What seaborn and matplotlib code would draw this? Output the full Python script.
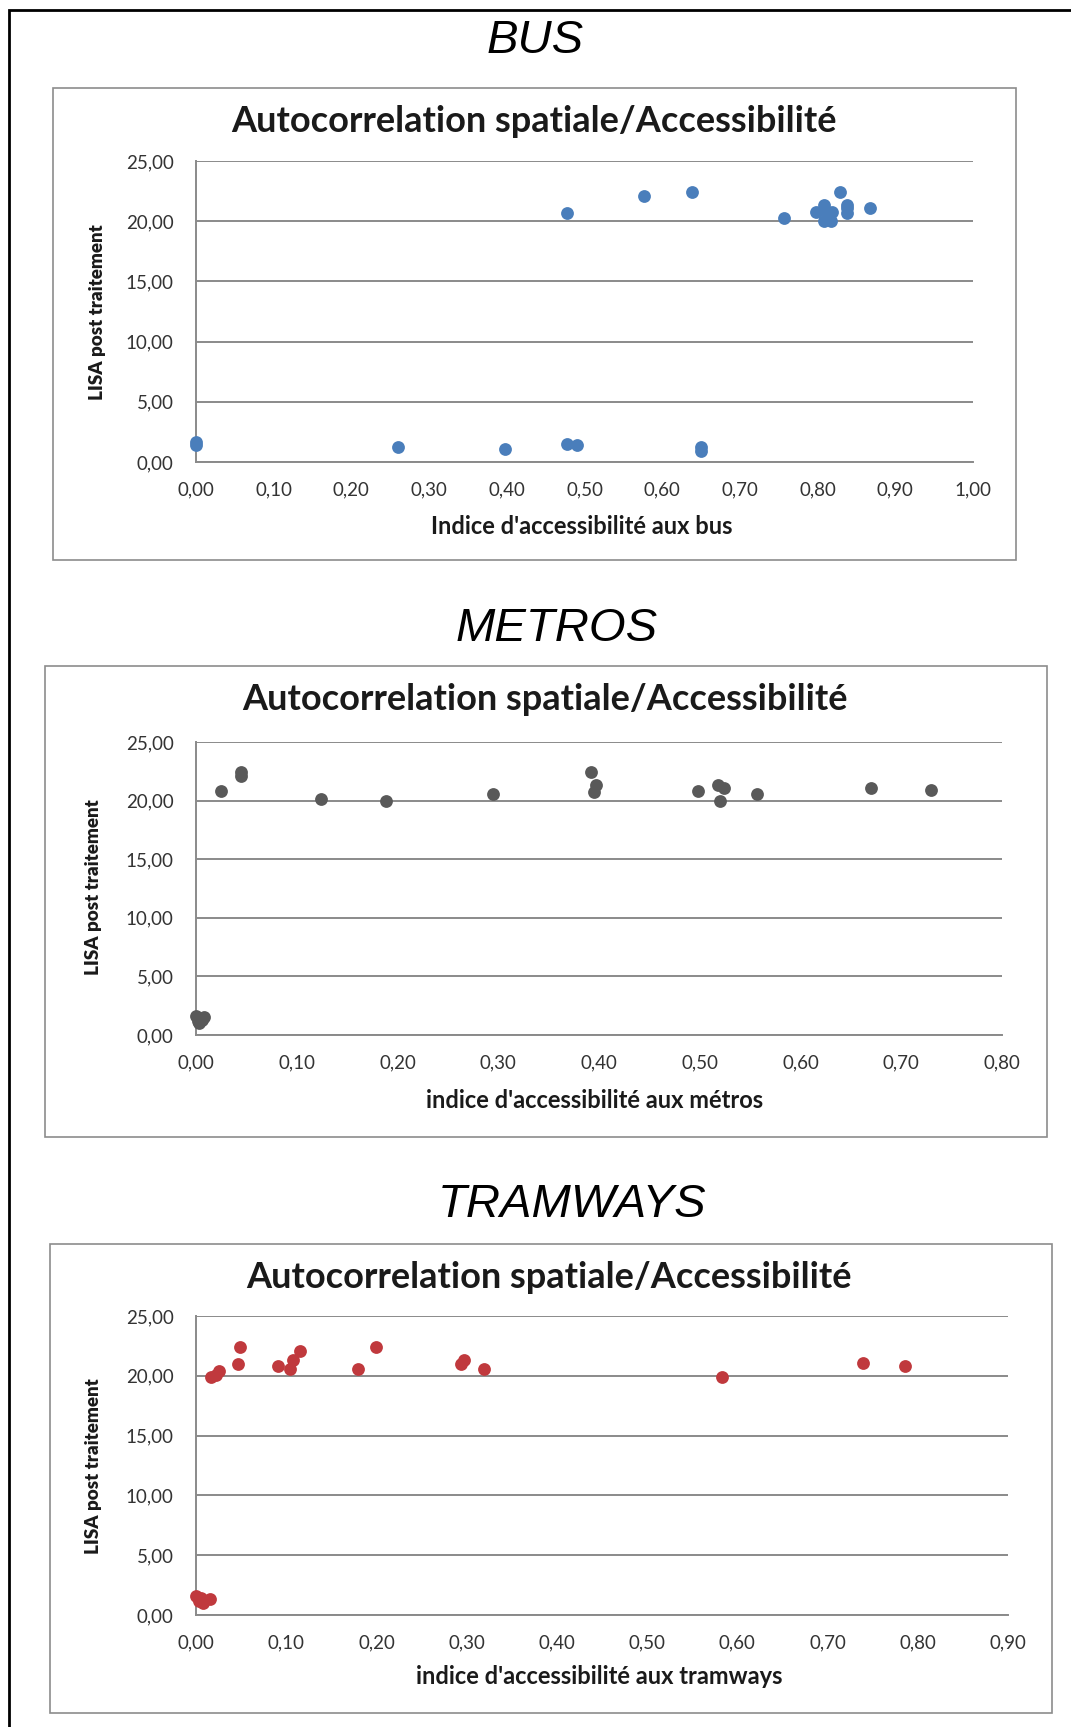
import matplotlib
matplotlib.use("Agg")
import matplotlib.pyplot as plt
import seaborn as sns
import pandas as pd
from matplotlib.patches import Rectangle
from matplotlib.ticker import FuncFormatter, MultipleLocator

# ---------------- data ----------------
bus_x = [0.000, 0.000, 0.260, 0.398, 0.478, 0.490, 0.650, 0.650,
         0.478, 0.577, 0.638, 0.757, 0.798, 0.808, 0.808, 0.812, 0.819,
         0.817, 0.829, 0.838, 0.838, 0.838, 0.868]
bus_y = [1.40, 1.70, 1.25, 1.09, 1.53, 1.39, 1.25, 0.92,
         20.70, 22.10, 22.45, 20.25, 20.80, 21.35, 20.05, 20.80, 20.80,
         20.05, 22.45, 21.35, 21.10, 20.70, 21.10]

metro_x = [0.000, 0.002, 0.006, 0.003, 0.008,
           0.025, 0.045, 0.045, 0.124, 0.189, 0.295, 0.392, 0.397, 0.395,
           0.498, 0.518, 0.524, 0.520, 0.557, 0.670, 0.730]
metro_y = [1.60, 1.20, 1.30, 1.00, 1.50,
           20.80, 22.10, 22.40, 20.10, 19.97, 20.60, 22.40, 21.30, 20.70,
           20.80, 21.30, 21.10, 19.97, 20.60, 21.10, 20.90]

tram_x = [0.000, 0.003, 0.008, 0.015, 0.005,
          0.017, 0.022, 0.026, 0.049, 0.046, 0.091, 0.104, 0.108, 0.115,
          0.180, 0.200, 0.294, 0.297, 0.319, 0.583, 0.739, 0.786]
tram_y = [1.60, 1.20, 1.00, 1.35, 1.40,
          19.90, 20.10, 20.40, 22.40, 21.00, 20.80, 20.60, 21.30, 22.10,
          20.60, 22.40, 21.00, 21.30, 20.60, 19.90, 21.10, 20.80]

section_titles = ["BUS", "METROS", "TRAMWAYS"]
chart_title = "Autocorrelation spatiale/Accessibilité"
y_label = "LISA post traitement"
x_labels = ["Indice d'accessibilité aux bus",
            "indice d'accessibilité aux métros",
            "indice d'accessibilité aux tramways"]
x_max = [1.0, 0.8, 0.9]
y_ticks = [0, 5, 10, 15, 20, 25]
colors = ["#4a7ebb", "#595959", "#c0393d"]

# ---------------- figure ----------------
sns.set_theme(style="white")
plt.rcParams['font.family'] = ['Lato', 'DejaVu Sans']

W, H = 1071, 1727
fig = plt.figure(figsize=(W / 100, H / 100), dpi=100)

def fx(px):
    return px / W

def fy(py):
    return 1 - py / H

# outer frame (open at right and bottom, running off the image)
fig.patches.append(Rectangle((fx(9), fy(1760)), fx(1100), (1760 - 10) / H,
                             transform=fig.transFigure, fill=False,
                             edgecolor="black", linewidth=2.0, zorder=0))

panels = [
    dict(frame=(53, 88, 1016, 560), ax=(196, 161, 973, 462), sec=(535, 41),
         title=(534, 122), xl=(582, 526), yl=(97, 312)),
    dict(frame=(45, 666, 1047, 1137), ax=(196, 742, 1002, 1035), sec=(557, 629),
         title=(545, 700), xl=(595, 1101), yl=(93, 887)),
    dict(frame=(50, 1244, 1052, 1713), ax=(196, 1316, 1008, 1615), sec=(572, 1205),
         title=(549, 1278), xl=(599, 1677), yl=(93, 1466)),
]

datasets = [(bus_x, bus_y), (metro_x, metro_y), (tram_x, tram_y)]
fmt = FuncFormatter(lambda v, pos: f"{v:.2f}".replace(".", ","))

for i, p in enumerate(panels):
    l, t, r, b = p["frame"]
    fig.patches.append(Rectangle((fx(l), fy(b)), fx(r - l), (b - t) / H,
                                 transform=fig.transFigure, fill=False,
                                 edgecolor="#8c8c8c", linewidth=1.2, zorder=0))
    fig.text(fx(p["sec"][0]), fy(p["sec"][1]), section_titles[i],
             ha="center", va="center", fontsize=34, style="italic",
             family=["Liberation Sans", "DejaVu Sans"], color="black")
    fig.text(fx(p["title"][0]), fy(p["title"][1]), chart_title,
             ha="center", va="center", fontsize=26, fontweight="bold",
             color="#1a1a1a")
    fig.text(fx(p["xl"][0]), fy(p["xl"][1]), x_labels[i],
             ha="center", va="center", fontsize=17, fontweight="bold",
             color="#1a1a1a")
    fig.text(fx(p["yl"][0]), fy(p["yl"][1]), y_label,
             ha="center", va="center", fontsize=13.5, fontweight="heavy",
             rotation=90, color="#1a1a1a")

    al, at, ar, ab = p["ax"]
    ax = fig.add_axes([fx(al), fy(ab), (ar - al) / W, (ab - at) / H])
    xs, ys = datasets[i]
    df = pd.DataFrame({"x": xs, "y": ys})
    sns.scatterplot(data=df, x="x", y="y", ax=ax, color=colors[i],
                    s=85, edgecolor=colors[i], linewidth=0, zorder=3,
                    clip_on=False)
    ax.set_xlim(0, x_max[i])
    ax.set_ylim(0, 25)
    ax.xaxis.set_major_locator(MultipleLocator(0.1))
    ax.set_yticks(y_ticks)
    ax.xaxis.set_major_formatter(fmt)
    ax.yaxis.set_major_formatter(fmt)
    ax.set_xlabel("")
    ax.set_ylabel("")
    ax.grid(axis="y", color="#8a8a8a", linewidth=1.4)
    ax.grid(axis="x", visible=False)
    ax.set_axisbelow(True)
    for s in ["top", "right"]:
        ax.spines[s].set_visible(False)
    for s in ["left", "bottom"]:
        ax.spines[s].set_color("#8a8a8a")
        ax.spines[s].set_linewidth(1.4)
    ax.tick_params(axis="both", length=0, labelsize=13.5, colors="#333333")
    ax.tick_params(axis="y", pad=16)
    ax.tick_params(axis="x", pad=14)
    ax.set_facecolor("white")

fig.savefig("out.png", dpi=100, facecolor="white")
